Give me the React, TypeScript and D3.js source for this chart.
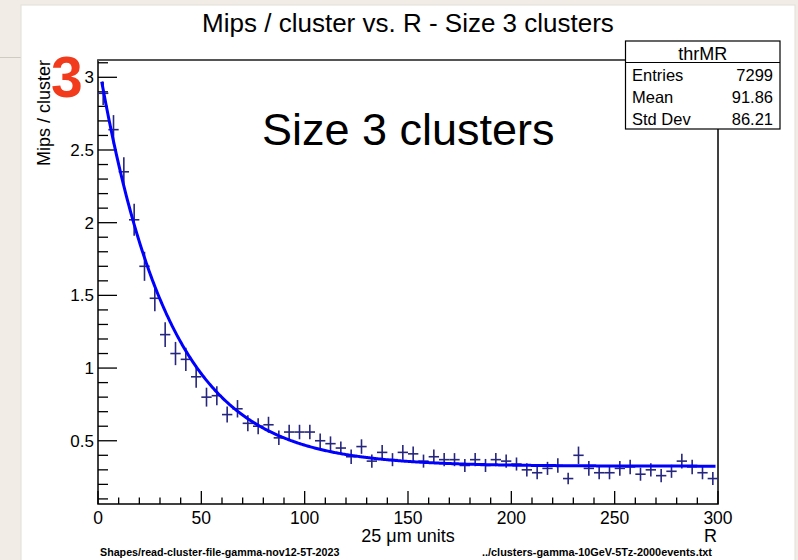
import React from "react";
import * as d3 from "d3";

// ---- Data ----
const binLow = 0;
const binWidth = 5;
const mipsPerCluster = [
  2.89, 2.64, 2.35, 2.02, 1.70, 1.48, 1.23, 1.10, 1.06, 0.94,
  0.80, 0.81, 0.68, 0.72, 0.62, 0.60, 0.61, 0.52, 0.56, 0.56,
  0.56, 0.50, 0.48, 0.45, 0.39, 0.46, 0.36, 0.42, 0.37, 0.42,
  0.41, 0.36, 0.39, 0.37, 0.37, 0.33, 0.37, 0.33, 0.37, 0.36,
  0.34, 0.30, 0.28, 0.31, 0.33, 0.24, 0.40, 0.31, 0.28, 0.28,
  0.31, 0.32, 0.27, 0.30, 0.26, 0.29, 0.36, 0.32, 0.28, 0.24,
];
const mipsErrors = [
  0.08, 0.10, 0.10, 0.11, 0.10, 0.09, 0.085, 0.08, 0.08, 0.075,
  0.065, 0.065, 0.055, 0.06, 0.055, 0.055, 0.055, 0.05, 0.05, 0.05,
  0.05, 0.05, 0.05, 0.045, 0.05, 0.05, 0.045, 0.05, 0.045, 0.05,
  0.05, 0.045, 0.05, 0.045, 0.045, 0.045, 0.045, 0.045, 0.045, 0.045,
  0.045, 0.045, 0.045, 0.045, 0.05, 0.04, 0.06, 0.05, 0.045, 0.045,
  0.05, 0.05, 0.045, 0.045, 0.045, 0.045, 0.05, 0.05, 0.045, 0.045,
];
// fit: A * exp(-R / tau) + C
const fitA = 2.79;
const fitTau = 33.8;
const fitC = 0.325;
const fitRange = [1.8, 299];

const xTickLabels = [0, 50, 100, 150, 200, 250, 300];
const yTickLabels = [0.5, 1, 1.5, 2, 2.5, 3];
const statsRows = [
  ["Entries", "7299"],
  ["Mean", "91.86"],
  ["Std Dev", "86.21"],
];

const FONT = "'Liberation Sans', Arial, Helvetica, sans-serif";

export default function App() {
  const W = 798, H = 560;
  const x = d3.scaleLinear().domain([0, 300]).range([98, 718]);
  const y = d3.scaleLinear().domain([0.065, 3.119]).range([504, 60]);

  const xMinor = d3.range(0, 301, 10).filter((v) => v % 50 !== 0);
  const yMinor = d3.range(1, 32).map((v) => v / 10).filter((v) => Math.abs(v * 2 - Math.round(v * 2)) > 1e-6);

  const fitPts = d3.range(fitRange[0], fitRange[1] + 0.001, 0.5).map((r) => [r, fitA * Math.exp(-r / fitTau) + fitC] as [number, number]);
  const fitLine = d3.line<[number, number]>().x((d) => x(d[0])).y((d) => y(d[1]))(fitPts) || "";

  const crossColor = "#26267e";

  return (
    <svg width={W} height={H} style={{ position: "absolute", left: 0, top: 0 }} fontFamily={FONT}>
      {/* paper background */}
      <rect x={0} y={0} width={W} height={H} fill="#f1ede6" />
      <line x1={0} x2={21} y1={57.5} y2={57.5} stroke="#cfcac2" strokeWidth={1} />
      <rect x={21} y={5} width={774} height={H} fill="#ffffff" stroke="#e2ded8" strokeWidth={1} />

      {/* title */}
      <text x={408} y={32} fontSize={26} textAnchor="middle" fill="#000">Mips / cluster vs. R - Size 3 clusters</text>

      {/* frame */}
      <rect x={98} y={60} width={620} height={444} fill="none" stroke="#000" strokeWidth={1.5} />
      <line x1={98} x2={718} y1={60} y2={60} stroke="#555" strokeWidth={2} />

      {/* y ticks */}
      {yTickLabels.map((v) => (
        <g key={"ym" + v}>
          <line x1={98} x2={117} y1={y(v)} y2={y(v)} stroke="#000" strokeWidth={1.3} />
          <text x={94} y={y(v)} dy="0.36em" fontSize={17} textAnchor="end">{String(v)}</text>
        </g>
      ))}
      {yMinor.map((v) => (
        <line key={"yn" + v} x1={98} x2={108} y1={y(v)} y2={y(v)} stroke="#000" strokeWidth={1.3} />
      ))}

      {/* x ticks */}
      {xTickLabels.map((v) => (
        <g key={"xm" + v}>
          <line x1={x(v)} x2={x(v)} y1={504} y2={491} stroke="#000" strokeWidth={1.3} />
          <text x={x(v)} y={523.5} fontSize={17.5} textAnchor="middle">{String(v)}</text>
        </g>
      ))}
      {xMinor.map((v) => (
        <line key={"xn" + v} x1={x(v)} x2={x(v)} y1={504} y2={497.5} stroke="#000" strokeWidth={1.3} />
      ))}

      {/* axis titles */}
      <text x={408} y={542} fontSize={18} textAnchor="middle">25 μm units</text>
      <text x={717} y={542} fontSize={18} textAnchor="end">R</text>
      <text transform="translate(50,60) rotate(-90)" fontSize={18} textAnchor="end">Mips / cluster</text>

      {/* data crosses */}
      {mipsPerCluster.map((v, i) => {
        const lo = binLow + i * binWidth;
        const c = lo + binWidth / 2;
        const e = mipsErrors[i];
        return (
          <g key={"p" + i} stroke={crossColor} strokeWidth={1.6}>
            <line x1={x(lo)} x2={x(lo + binWidth)} y1={y(v)} y2={y(v)} />
            <line x1={x(c)} x2={x(c)} y1={y(v - e)} y2={y(v + e)} />
          </g>
        );
      })}

      {/* fit */}
      <path d={fitLine} fill="none" stroke="#0000ff" strokeWidth={3} />

      {/* big label */}
      <text x={262} y={145} fontSize={45} fill="#000">Size 3 clusters</text>

      {/* stats box */}
      <rect x={625.5} y={41} width={154.5} height={88} fill="#fff" stroke="#000" strokeWidth={1.2} />
      <line x1={625.5} x2={780} y1={62.5} y2={62.5} stroke="#000" strokeWidth={1.2} />
      <text x={702.7} y={59.5} fontSize={18} textAnchor="middle">thrMR</text>
      {statsRows.map((r, i) => (
        <g key={"s" + i}>
          <text x={632} y={80.5 + i * 22} fontSize={16.5}>{r[0]}</text>
          <text x={773} y={80.5 + i * 22} fontSize={16.5} textAnchor="end">{r[1]}</text>
        </g>
      ))}

      {/* red 3 */}
      <text x={51} y={97} fontSize={57} fontWeight="bold" fill="#f23b1c">3</text>

      {/* footer */}
      <text x={100} y={555.5} fontSize={10.7} fontWeight="bold">Shapes/read-cluster-file-gamma-nov12-5T-2023</text>
      <text x={712} y={555.5} fontSize={10.9} fontWeight="bold" textAnchor="end">../clusters-gamma-10GeV-5Tz-2000events.txt</text>
    </svg>
  );
}
